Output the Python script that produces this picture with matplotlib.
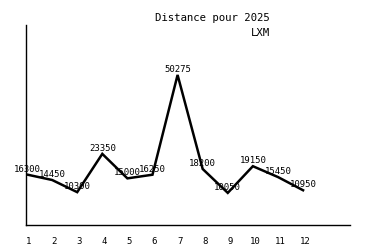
import matplotlib
matplotlib.use("Agg")
import matplotlib.pyplot as plt
import matplotlib.transforms as mtransforms

months = list(range(1, 13))
distances = [16300, 14450, 10300, 23350, 15000, 16250, 50275, 18200, 10050, 19150, 15450, 10950]
tick_labels = [str(m) for m in months]

plt.rcParams['font.family'] = ['DejaVu Sans Mono']

fig = plt.figure(figsize=(3.75, 2.5), dpi=100)
ax = fig.add_axes([26/375, 0.1, (350-26)/375, 0.8])
ax.plot(months, distances, color='black', lw=1.8, solid_joinstyle='miter')
ax.set_xlim(0.96, 13.87)
ax.set_ylim(-900, 67300)
for s in ['top', 'right']:
    ax.spines[s].set_visible(False)
for s in ['left', 'bottom']:
    ax.spines[s].set_linewidth(1.0)
ax.set_yticks([])
ax.set_xticks(months)
ax.set_xticklabels(tick_labels, fontsize=6.5)
ax.tick_params(axis='x', length=0, pad=9)
offset = mtransforms.ScaledTranslation(2/100, 0, fig.dpi_scale_trans)
for tl in ax.get_xticklabels():
    tl.set_transform(tl.get_transform() + offset)
for m, d in zip(months, distances):
    ax.annotate(str(d), (m, d), xytext=(0, 4), textcoords='offset points',
                ha='center', va='center', fontsize=6.5)
fig.text(212/375, 1-18/250, 'Distance pour 2025', ha='center', va='center', fontsize=7.7)
fig.text(270/375, 1-33/250, 'LXM', ha='right', va='center', fontsize=7.7)
fig.savefig('out.png', dpi=100)
